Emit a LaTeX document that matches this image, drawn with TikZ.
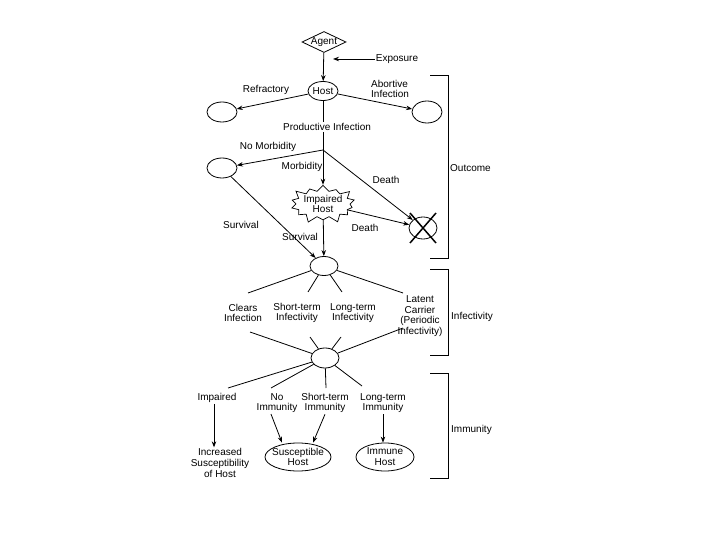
\documentclass[tikz,border=0pt]{standalone}
\usepackage{fontspec}
\setmainfont{Liberation Sans}
\usetikzlibrary{shapes.geometric,shapes.symbols,arrows.meta}
\begin{document}
\begin{tikzpicture}[x=1pt,y=-1pt,
  every node/.style={font=\fontsize{10}{10.8}\selectfont, inner sep=1pt, align=center},
  oval/.style={draw, ellipse, inner sep=0pt, line width=0.8pt},
  arr/.style={-{Stealth[length=6pt,width=4.5pt]}, line width=0.8pt},
  ray/.style={line width=0.8pt},
  bracket/.style={line width=0.9pt}]
\useasboundingbox (0,0) rectangle (720,540);

% --- top part
\node[draw, diamond, inner sep=0pt, minimum width=44pt, minimum height=21pt, line width=0.8pt] (agent) at (324,42) {};
\node (agenttxt) at (324,42) {Agent};
\node[oval, minimum width=30pt, minimum height=19pt] (host) at (323,91) {Host};
\node (exposure) at (397,59) {Exposure};
\coordinate (expoend) at (333,59);
\node (refrlbl) at (266,90) {Refractory};
\node[oval, minimum width=30pt, minimum height=20pt] (refr) at (222,112) {};
\node[anchor=west, align=left] (abortlbl) at (370,89) {Abortive\\Infection};
\node[oval, minimum width=30pt, minimum height=22pt] (abort) at (427,112) {};
\node (prod) at (327,127) {Productive Infection};
\coordinate (branch) at (323,150);
\node (nomorblbl) at (268,147) {No Morbidity};
\node[oval, minimum width=30pt, minimum height=20pt] (nomorb) at (222,168) {};
\node (morblbl) at (302,167) {Morbidity};
\node[draw, starburst, starburst points=14, starburst point height=8pt, inner sep=0pt, minimum width=70pt, minimum height=42pt, line width=0.7pt] (imp) at (323,204) {};
\node (imptxt) at (323,204) {Impaired\\Host};
\node[oval, minimum width=28pt, minimum height=22pt] (dead) at (423,228) {};
\draw[line width=1.5pt] ([shift={(-13,-15)}]dead.center) -- ([shift={(13,15)}]dead.center);
\draw[line width=1.5pt] ([shift={(13,-15)}]dead.center) -- ([shift={(-13,15)}]dead.center);
\node (death1) at (386,180) {Death};
\node (death2) at (365,228) {Death};
\node (surv1) at (300,237) {Survival};
\node (surv2) at (241,225) {Survival};
\node[oval, minimum width=28pt, minimum height=19pt] (merge) at (324,266) {};

\draw[arr] (exposure.west) -- (expoend);
\draw[arr] (agent) -- (host);
\draw[arr] (host) -- (refr);
\draw[arr] (host) -- (abort);
\draw[line width=0.8pt] (host) -- (host |- prod.north);
\draw[line width=0.8pt] (prod.south -| host) -- (branch);
\draw[arr] (branch) -- (nomorb);
\draw[arr] (branch) -- (imp);
\draw[arr] (branch) -- (dead);
\draw[arr] (imp) -- (dead);
\draw[arr] (imp) -- (merge);
\draw[arr] (nomorb) -- (merge);

% --- infectivity
\node (clears) at (243,313) {Clears\\Infection};
\node (stinf) at (297,313) {Short-term\\Infectivity};
\node (ltinf) at (353,313) {Long-term\\Infectivity};
\node (latent) at (420,316) {Latent\\Carrier\\(Periodic\\Infectivity)};
\node[oval, minimum width=28pt, minimum height=20pt] (imm) at (325,358) {};
\coordinate (c1) at (248,293);
\coordinate (c2) at (308,292);
\coordinate (c3) at (342,292);
\coordinate (c4) at (403,293);
\coordinate (c5) at (250,332);
\coordinate (c6) at (310,337);
\coordinate (c7) at (341,337);
\coordinate (c8) at (403,328);
\foreach \c in {c1,c2,c3,c4} \draw[ray] (merge) -- (\c);
\foreach \c in {c5,c6,c7,c8} \draw[ray] (\c) -- (imm);

% --- immunity
\coordinate (c9) at (228,388);
\coordinate (c10) at (271,388);
\coordinate (c11) at (326,388);
\coordinate (c12) at (362,386);
\foreach \c in {c9,c10,c11,c12} \draw[ray] (imm) -- (\c);
\node (impd) at (217,398) {Impaired};
\node (noimm) at (277,403) {No\\Immunity};
\node (stimm) at (325,403) {Short-term\\Immunity};
\node (ltimm) at (383,403) {Long-term\\Immunity};
\node (incr) at (220,463) {Increased\\Susceptibility\\of Host};
\node[oval, minimum width=66pt, minimum height=28pt] (susc) at (298,457) {};
\node (susctxt) at (298,457) {Susceptible\\Host};
\node[oval, minimum width=58pt, minimum height=28pt] (immh) at (385,457) {};
\node (immhtxt) at (385,457) {Immune\\Host};

\draw[arr] ([xshift=-3pt]impd.south) -- ([xshift=-6pt]incr.north);
\draw[arr] ([xshift=-6pt]noimm.south) -- ([xshift=-16pt]susc.north);
\draw[arr] (stimm.south) -- ([xshift=15pt]susc.north);
\draw[arr] (ltimm.south) -- (ltimm.south |- immh.north);

% --- brackets
\draw[bracket] (430,75) -- (448,75) -- (448,258) -- (430,258);
\node[anchor=west] (outcome) at (449,168) {Outcome};
\draw[bracket] (430,269) -- (448,269) -- (448,355) -- (430,355);
\node[anchor=west] (infect) at (450,317) {Infectivity};
\draw[bracket] (430,373) -- (448,373) -- (448,478) -- (430,478);
\node[anchor=west] (immun) at (450,430) {Immunity};
\end{tikzpicture}
\end{document}
